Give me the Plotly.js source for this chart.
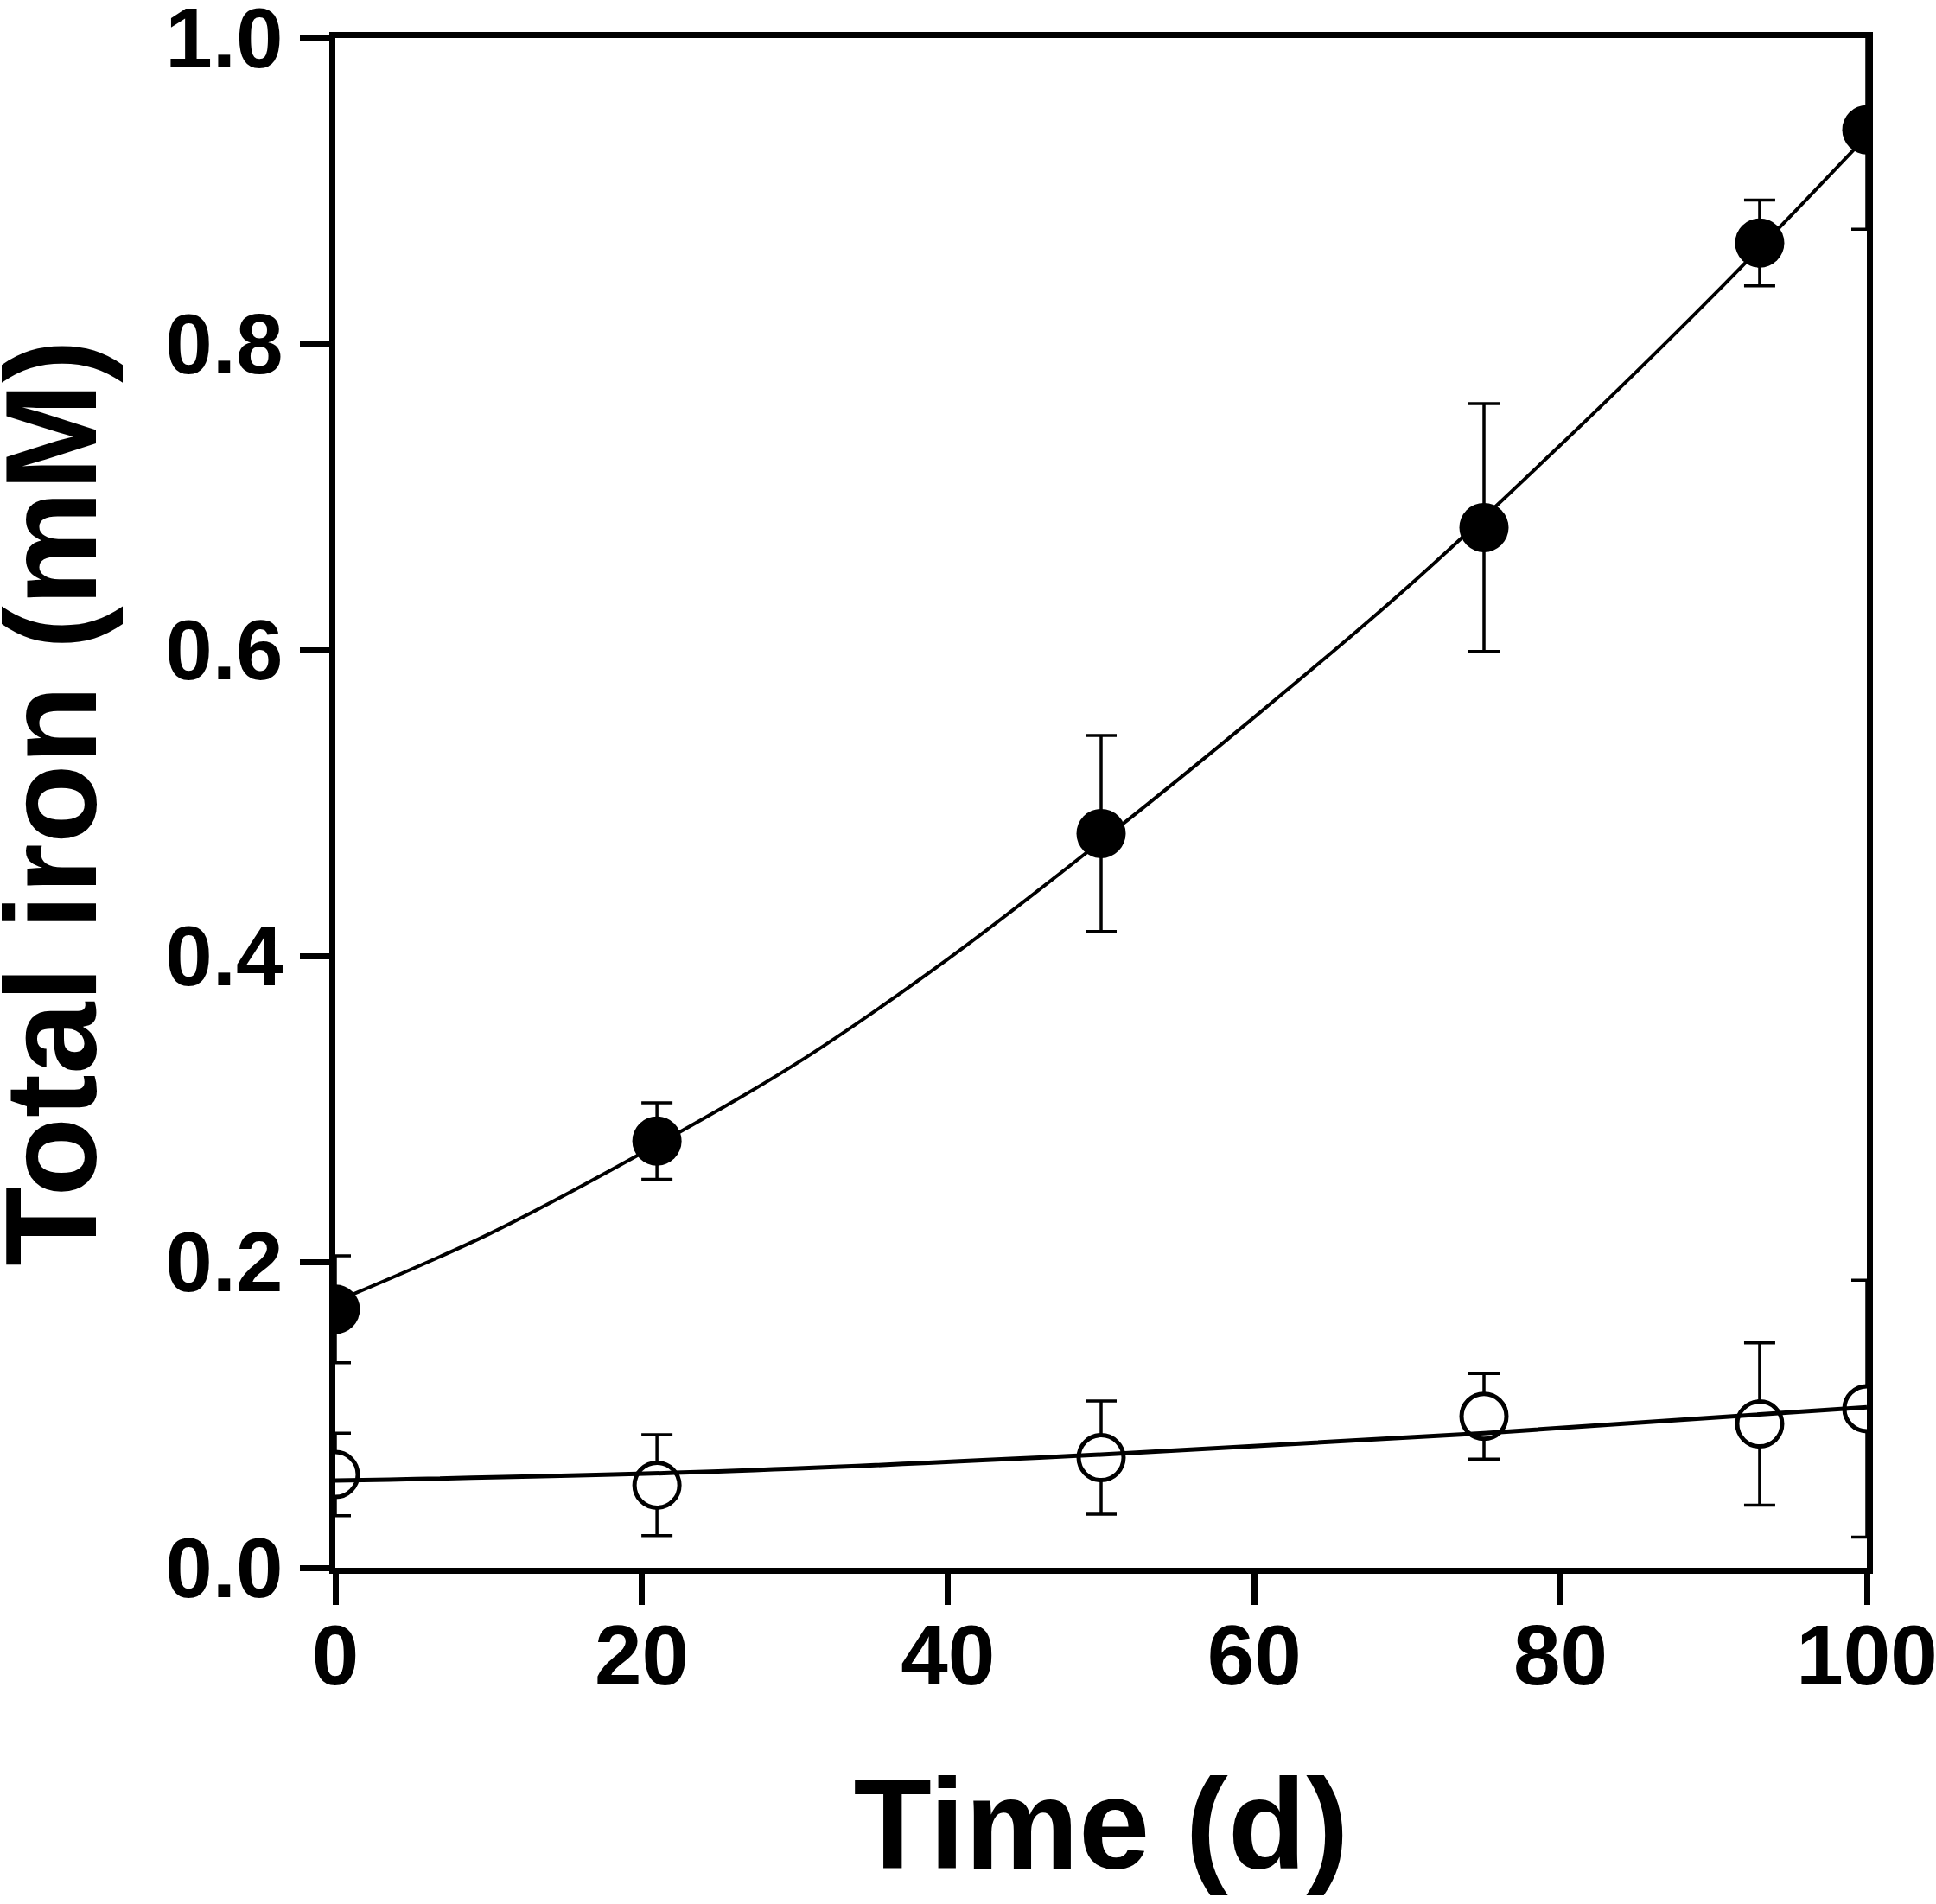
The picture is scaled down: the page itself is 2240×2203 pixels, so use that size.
<!DOCTYPE html>
<html>
<head>
<meta charset="utf-8">
<script src="https://cdn.plot.ly/plotly-3.0.1.min.js"></script>
<style>
  html, body { margin: 0; padding: 0; background: #fff; }
  #chart { width: 2240px; height: 2203px; }
</style>
</head>
<body>
<div id="chart"></div>
<script>
// sampling days
const days = [0, 21, 50, 75, 93, 100];

// filled circles: total iron (mM) and error
const ironFilled = [0.169, 0.279, 0.480, 0.680, 0.866, 0.940];
const errFilled = [0.035, 0.025, 0.064, 0.081, 0.028, 0.065];

// open circles
const ironOpen = [0.061, 0.054, 0.072, 0.099, 0.094, 0.104];
const errOpen = [0.027, 0.033, 0.037, 0.028, 0.053, 0.084];

// fitted curves
const fitDays = [0, 10, 20, 30, 40, 50, 60, 70, 80, 90, 100];
const fitFilled = [0.174, 0.218, 0.271, 0.329, 0.398, 0.475, 0.556, 0.641, 0.734, 0.832, 0.936];
const fitOpenDays = [0, 25, 50, 75, 100];
const fitOpen = [0.057, 0.063, 0.074, 0.088, 0.105];

const FONT = 'Liberation Sans, Arial, Helvetica, sans-serif';
const INK = '#000';

const traces = [
  {
    // filled symbols
    type: 'scatter',
    mode: 'markers',
    x: days,
    y: ironFilled,
    marker: { symbol: 'circle', size: 57, color: INK, line: { width: 0 } },
    error_y: {
      type: 'data', array: errFilled, visible: true,
      color: INK, thickness: 3.5, width: 18,
    },
  },
  {
    // open symbols (white fill hides the error bar inside)
    type: 'scatter',
    mode: 'markers',
    x: days,
    y: ironOpen,
    marker: { symbol: 'circle', size: 52, color: '#fff', line: { width: 5, color: INK } },
    error_y: {
      type: 'data', array: errOpen, visible: true,
      color: INK, thickness: 3.5, width: 18,
    },
  },
  {
    type: 'scatter',
    mode: 'lines',
    x: fitDays,
    y: fitFilled,
    line: { color: INK, width: 4, shape: 'spline' },
  },
  {
    type: 'scatter',
    mode: 'lines',
    x: fitOpenDays,
    y: fitOpen,
    line: { color: INK, width: 5, shape: 'spline' },
  },
];

const tickFont = { family: FONT, size: 98, color: INK, weight: 'bold' };

const layout = {
  width: 2240,
  height: 2203,
  paper_bgcolor: '#fff',
  plot_bgcolor: '#fff',
  showlegend: false,
  hovermode: false,
  margin: { l: 388, r: 80, t: 44, b: 389, pad: 0 },
  font: { family: FONT, color: INK },
  xaxis: {
    range: [0, 100],
    tick0: 0,
    dtick: 20,
    ticks: 'outside',
    ticklen: 36,
    tickwidth: 7,
    tickcolor: INK,
    showline: true,
    linewidth: 7,
    linecolor: INK,
    mirror: true,
    showgrid: false,
    zeroline: false,
    tickfont: tickFont,
    ticklabeloverflow: 'allow',
    ticklabelstandoff: -26,
    title: {
      text: 'Time (d)',
      standoff: 92,
      font: { family: FONT, size: 148, color: INK, weight: 'bold' },
    },
  },
  yaxis: {
    range: [0, 1],
    tick0: 0,
    dtick: 0.2,
    tickformat: '.1f',
    ticks: 'outside',
    ticklen: 34,
    tickwidth: 7,
    tickcolor: INK,
    showline: true,
    linewidth: 7,
    linecolor: INK,
    mirror: true,
    showgrid: false,
    zeroline: false,
    tickfont: tickFont,
    ticklabeloverflow: 'allow',
  },
  // y title as an annotation so it can sit closer to the page edge
  annotations: [
    {
      text: 'Total iron (mM)',
      xref: 'paper',
      yref: 'paper',
      x: (59 - 388) / 1772,
      y: 0.5,
      xanchor: 'center',
      yanchor: 'middle',
      textangle: -90,
      showarrow: false,
      font: { family: FONT, size: 150, color: INK, weight: 'bold' },
    },
  ],
};

Plotly.newPlot('chart', traces, layout, { displayModeBar: false, staticPlot: true });
</script>
</body>
</html>
